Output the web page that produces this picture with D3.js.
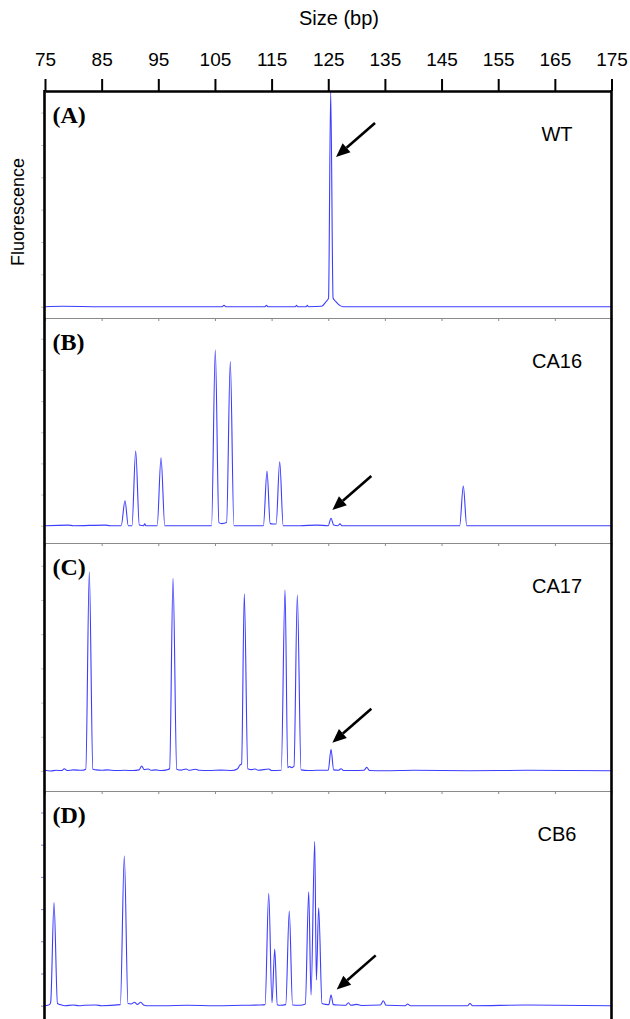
<!DOCTYPE html>
<html lang="en">
<head>
<meta charset="utf-8">
<title>Fragment size traces</title>
<script src="https://cdn.jsdelivr.net/npm/d3@7"></script>
<style>
  body { margin: 0; background: #fff; }
  svg { display: block; }
</style>
</head>
<body>
<svg id="chart"></svg>
<script>
const sizeTicks = [75, 85, 95, 105, 115, 125, 135, 145, 155, 165, 175]
const fluorTicks = [0, 15, 30, 45, 60, 75, 90]
const panelLabels = ["(A)", "(B)", "(C)", "(D)"]
const sampleNames = ["WT", "CA16", "CA17", "CB6"]

// [size (bp), fluorescence as % of panel height]
const traceWT = [
    [75, 0], [78, 0.2], [85, 0], [95, 0], [106.3, 0], [106.6, 0.7], [106.9, 0],
    [113.8, 0], [114.1, 0.6], [114.4, 0], [119.2, 0], [119.4, 0.6], [119.6, 0],
    [121.1, 0], [121.3, 0.6], [121.5, 0], [123.8, 0.2], [124.6, 2.3], [125.05, 4],
    [125.43, 100], [125.85, 4], [126.3, 2.5], [127.1, 0.5], [127.6, 0], [175, 0]
]
const traceCA16 = [
    [75, 0], [79.1, 0.3], [80, 0], [85.6, 0.3], [86.5, 0],
    [88.45, 0], [89.12, 12.0], [89.7, 0],
    [90.35, 0], [91.01, 36.0], [91.65, 0.3], [92.4, 0], [92.6, 0.9], [92.8, 0],
    [94.8, 0], [95.48, 32.7], [96.15, 0],
    [104.4, 0], [105.06, 84.6], [105.7, 1.5], [106.2, 1.0], [107.05, 1.5], [107.71, 79.0], [108.35, 0],
    [113.55, 0], [114.19, 26.3], [114.75, 1.0], [115.3, 0.8], [115.8, 0.8], [116.43, 30.8], [117.05, 0],
    [120, 0], [123, 0.3], [125.0, 0], [125.49, 3.6], [125.95, 0.3], [126.7, 0], [127.07, 0.9], [127.4, 0],
    [148.2, 0], [148.84, 19.1], [149.45, 0], [175, 0]
]
const traceCA17 = [
    [75, 0.3], [76, 0], [77, 0.3], [78.0, 0.2], [78.4, 1.0], [78.9, 0.2], [80, 0.5], [81.5, 0.3],
    [82.2, 0.8], [82.82, 87.4], [83.45, 0.8], [84, 0.5], [85, 0.3], [86, 0.5], [87.5, 0.2],
    [89, 0.3], [90.5, 0.2], [91.6, 0.5], [92.07, 2.2], [92.5, 0.6], [93.24, 0.9], [93.7, 0.3],
    [94.5, 0.5], [95.5, 0.2], [96.5, 0.5], [97.0, 1.0], [97.6, 84.5], [98.25, 0.8], [99, 0.4],
    [99.9, 0.9], [100.4, 0.3], [101.6, 0.8], [102.2, 0.3], [104, 0.2], [106, 0.4], [108, 0.2],
    [109.0, 1.0], [109.4, 2.6], [109.7, 3], [110.18, 77.6], [110.8, 1.0], [111.5, 0.6],
    [112.1, 0.9], [112.6, 0.3], [114.5, 0.9], [115, 0.2], [116.7, 0.3], [117.37, 79.4],
    [117.85, 1.5], [118.2, 2.0], [118.5, 1.5], [118.95, 2.0], [119.54, 77.2], [120.2, 0.5],
    [121.5, 0.2], [123, 0.3], [125.0, 0.3], [125.49, 9.5], [125.95, 0.5], [126.8, 0.3],
    [127.25, 1.0], [127.7, 0.2], [129, 0.2], [131.3, 0.3], [131.79, 1.6], [132.3, 0.2],
    [135, 0.1], [140, 0.3], [150, 0.1], [160, 0.3], [175, 0.1]
]
const traceCB6 = [
    [75, 0], [75.8, 0.5], [76.0, 1.5], [76.59, 48.0], [77.2, 1.0], [77.7, 0.5], [78.5, 0],
    [80, 0.3], [81, 0], [82, 0.2], [84, 0.3], [85, 0],
    [88.3, 0.5], [89.0, 69.7], [89.65, 1.0], [90.2, 0.8], [90.8, 1.6], [91.3, 0.6], [91.9, 1.6],
    [92.4, 0.3], [93, 0], [96, 0], [100, 0.2], [105, 0], [110, 0.2], [113, 0.3],
    [113.85, 0.5], [114.49, 52.4], [115.07, 1.4], [115.55, 26.4], [116.0, 0.5], [116.5, 0.2],
    [117.5, 0.5], [118.12, 44.1], [118.7, 0.3], [120, 0.2], [120.95, 0.8], [121.55, 53.0],
    [121.96, 5.0], [122.61, 76.4], [122.9, 12.0], [123.31, 45.6], [123.9, 1.0], [124.6, 0.6],
    [125.1, 0.5], [125.49, 5.0], [125.9, 0.5], [126.8, 0.3], [128.1, 0.2], [128.54, 1.4],
    [129, 0.2], [130, 0.6], [131, 0.1], [134.2, 0.3], [134.72, 2.3], [135.2, 0.2],
    [138.6, 0], [139, 0.8], [139.5, 0], [149.6, 0], [150, 1.0], [150.5, 0], [160, 0.3], [175, 0]
]
const traces = [traceWT, traceCA16, traceCA17, traceCB6]

// arrow tip of each panel, in [size, fluorescence]
const arrowTips = [[126.37, 69.4], [125.72, 7.6], [125.72, 12.4], [126.49, 7.6]]

const width = 630
const height = 1019

const panels = [
    {top: 91, base: 306.7, bottom: 318},
    {top: 318, base: 525.7, bottom: 543},
    {top: 543, base: 771, bottom: 791},
    {top: 791, base: 1005.7, bottom: 1040}
]

const svg = d3.select("#chart")
    .attr("width", width)
    .attr("height", height)
    .attr("viewBox", [0, 0, width, height])

const x = d3.scaleLinear()
    .domain([75, 175])
    .range([45, 611.5])

const font = "Liberation Sans, Arial, sans-serif"

panels.forEach((p, i) => {
    const y = d3.scaleLinear()
        .domain([0, 100])
        .range([p.base, p.top])

    // faint fluorescence ticks on the left edge
    svg.append("g")
        .attr("transform", `translate(${x(75) - 1},0)`)
        .call(d3.axisLeft(y).tickValues(fluorTicks).tickSize(3).tickFormat(""))
        .call(g => g.select(".domain").remove())
        .call(g => g.selectAll("line")
            .attr("stroke", i === 3 ? "#8c7fd6" : "#c8c8c8")
            .attr("stroke-width", 1))

    // thin divider under each panel
    if (i < 3) {
        svg.append("g")
            .attr("transform", `translate(0,${p.bottom})`)
            .call(d3.axisBottom(x).tickValues(sizeTicks).tickSize(3).tickSizeOuter(0).tickFormat(""))
            .call(g => g.select(".domain").attr("stroke", "#8a8a8a").attr("stroke-width", 1))
            .call(g => g.selectAll("line").attr("stroke", "#8a8a8a"))
    }

    const line = d3.line()
        .x(d => x(d[0]))
        .y(d => y(d[1]))
        .curve(d3.curveMonotoneX)

    svg.append("path")
        .datum(traces[i])
        .attr("fill", "none")
        .attr("stroke", "#3d3dff")
        .attr("stroke-width", 1.1)
        .attr("d", line)

    svg.append("text")
        .attr("x", 52.5)
        .attr("y", p.top + 32)
        .attr("font-family", "Liberation Serif, Times New Roman, serif")
        .attr("font-weight", "bold")
        .attr("font-size", 24)
        .text(panelLabels[i])

    svg.append("text")
        .attr("x", 557)
        .attr("y", p.top + 50)
        .attr("text-anchor", "middle")
        .attr("font-family", font)
        .attr("font-size", 20)
        .text(sampleNames[i])

    // arrow pointing at the 125 bp peak
    const tx = x(arrowTips[i][0])
    const ty = y(arrowTips[i][1])
    const sx = tx + 39
    const sy = ty - 34
    const len = Math.hypot(sx - tx, sy - ty)
    const ux = (sx - tx) / len
    const uy = (sy - ty) / len
    const head = 14
    const half = 6
    const bx = tx + ux * head
    const by = ty + uy * head

    svg.append("line")
        .attr("x1", sx).attr("y1", sy)
        .attr("x2", bx).attr("y2", by)
        .attr("stroke", "#000")
        .attr("stroke-width", 2.6)

    svg.append("path")
        .attr("d", `M${tx},${ty}L${bx - uy * half},${by + ux * half}L${bx + uy * half},${by - ux * half}Z`)
        .attr("fill", "#000")
})

// top size axis
svg.append("g")
    .attr("transform", `translate(0,${panels[0].top})`)
    .call(d3.axisTop(x).tickValues(sizeTicks).tickSize(12).tickSizeOuter(0).tickPadding(13))
    .call(g => g.select(".domain").attr("stroke-width", 2.5))
    .call(g => g.selectAll(".tick line").attr("stroke-width", 2))
    .call(g => g.selectAll("text")
        .attr("font-family", font)
        .attr("font-size", 19)
        .attr("fill", "#000"))

svg.append("text")
    .attr("x", 339)
    .attr("y", 25)
    .attr("text-anchor", "middle")
    .attr("font-family", font)
    .attr("font-size", 20)
    .text("Size (bp)")

svg.append("text")
    .attr("transform", "translate(24,212) rotate(-90)")
    .attr("text-anchor", "middle")
    .attr("font-family", font)
    .attr("font-size", 18)
    .text("Fluorescence")

// frame sides
svg.append("g")
    .attr("stroke", "#000")
    .attr("stroke-width", 2.6)
    .selectAll("line")
    .data([75, 175])
    .join("line")
    .attr("x1", d => x(d) + (d === 75 ? -0.5 : 0))
    .attr("x2", d => x(d) + (d === 75 ? -0.5 : 0))
    .attr("y1", panels[0].top - 1)
    .attr("y2", height)
</script>
</body>
</html>
